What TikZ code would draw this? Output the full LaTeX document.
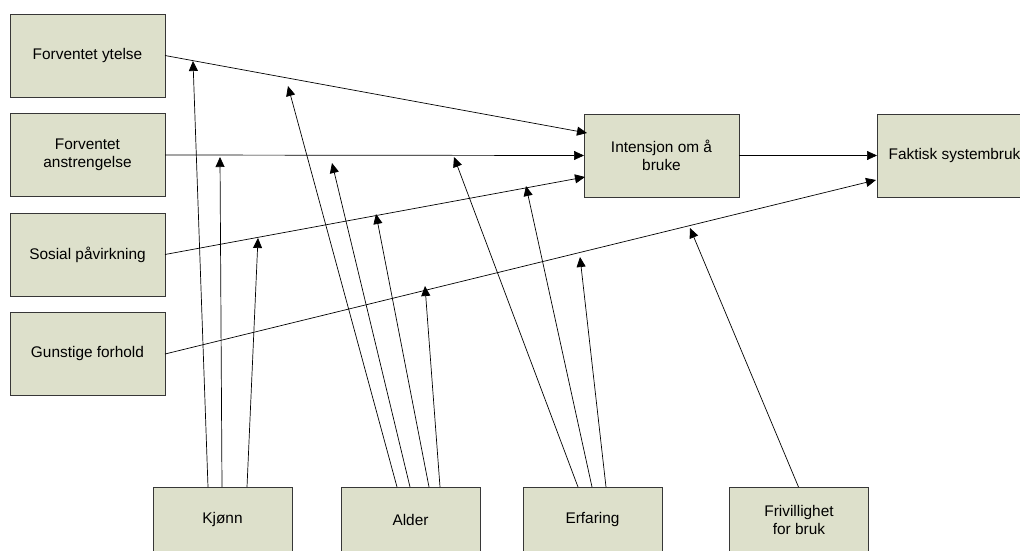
\documentclass[tikz,border=0pt]{standalone}
\usepackage{fontspec}
\setmainfont{Liberation Sans}
\usetikzlibrary{arrows.meta,calc}
\definecolor{boxfill}{RGB}{221,224,203}
\definecolor{boxline}{RGB}{55,55,55}
\begin{document}
\begin{tikzpicture}[x=1pt,y=-1pt,
  factor/.style={draw=boxline,fill=boxfill,line width=0.8pt,
    minimum width=155pt,minimum height=83pt,inner sep=0pt,outer sep=0pt,
    align=center,font=\fontsize{15.4}{18}\selectfont},
  moderator/.style={factor,minimum width=139pt,minimum height=66pt},
  link/.style={draw=black,line width=0.7pt,-{Triangle[length=10pt,width=9pt]}}]
\useasboundingbox (0,0) rectangle (1020,550);

% determinants
\node[factor] (fy) at (87.5,55.5)  {Forventet ytelse};
\node[factor] (fa) at (87.5,155)   {Forventet\\anstrengelse};
\node[factor] (sp) at (87.5,254.5) {Sosial påvirkning};
\node[factor] (gf) at (87.5,354)   {Gunstige forhold};

% intention and use
\node[factor] (intent)  at (661.5,155.5) {Intensjon om å\\bruke};
\node[factor] (faktisk) at (954.5,155.5) {Faktisk systembruk};

% moderators
\node[moderator] (kjonn)  at (222.5,520) {Kjønn};
\node[moderator] (alder)  at (410.5,520) {Alder};
\node[moderator] (erf)    at (592.5,520) {Erfaring};
\node[moderator] (frivil) at (799,520)   {Frivillighet\\for bruk};

% end points of the main paths
\coordinate (i1) at ($(intent.north west)+(3,19)$);
\coordinate (i3) at ($(intent.south west)+(1,-20)$);
\coordinate (f2) at ($(faktisk.west)+(-1,24.5)$);

% main paths
\draw[link] (fy.east) -- (i1);
\draw[link] (fa.east) -- (intent.west);
\draw[link] (sp.east) -- (i3);
\draw[link] (gf.east) -- (f2);
\draw[link] (intent.east) -- (faktisk.west);

% moderating effects on the paths
\coordinate (k1) at (193,61);
\coordinate (k2) at (220,157);
\coordinate (k3) at (258,238);
\coordinate (a1) at (288,86);
\coordinate (a2) at (332,163);
\coordinate (a3) at (376,214);
\coordinate (a4) at (425,286);
\coordinate (e1) at (454,157);
\coordinate (e2) at (526,186);
\coordinate (e3) at (580,257);
\coordinate (v1) at (690,228);

\draw[link] ($(kjonn.north west)+(55,0)$) -- (k1);
\draw[link] ($(kjonn.north west)+(69,0)$) -- (k2);
\draw[link] ($(kjonn.north west)+(94,0)$) -- (k3);

\draw[link] ($(alder.north west)+(56,0)$) -- (a1);
\draw[link] ($(alder.north west)+(69,0)$) -- (a2);
\draw[link] ($(alder.north west)+(88,0)$) -- (a3);
\draw[link] ($(alder.north west)+(99,0)$) -- (a4);

\draw[link] ($(erf.north west)+(55,0)$) -- (e1);
\draw[link] ($(erf.north west)+(69,0)$) -- (e2);
\draw[link] ($(erf.north west)+(83,0)$) -- (e3);

\draw[link] ($(frivil.north west)+(69,0)$) -- (v1);
\end{tikzpicture}
\end{document}
